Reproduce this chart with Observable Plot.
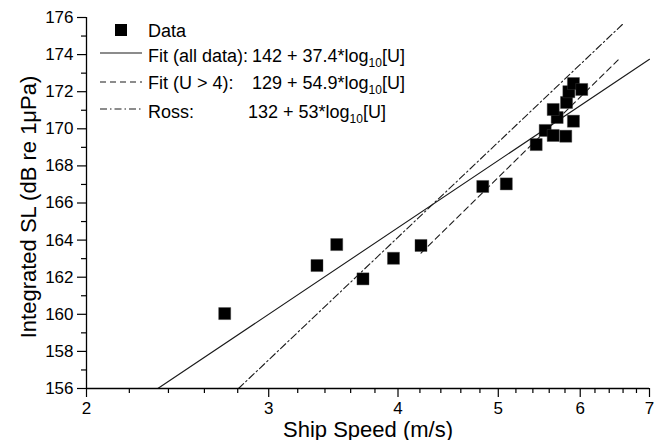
<!DOCTYPE html>
<html><head><meta charset="utf-8">
<script src="https://cdn.jsdelivr.net/npm/d3@7"></script>
<script src="https://cdn.jsdelivr.net/npm/@observablehq/plot@0.6"></script>
<style>body{margin:0;background:#fff}#chart{width:661px;height:440px}</style>
</head><body><div id="chart"></div>
<script>
// Measured data (ship speed m/s, integrated source level dB re 1 µPa)
const speed = [2.72, 3.34, 3.49, 3.70, 3.96, 4.21, 4.83, 5.09, 5.44, 5.55, 5.65, 5.81, 5.91, 5.70, 5.65, 5.82, 5.85, 5.91, 6.02];
const level = [160.04, 162.63, 163.76, 161.91, 163.02, 163.71, 166.89, 167.03, 169.15, 169.91, 169.64, 169.60, 170.41, 170.61, 171.04, 171.42, 172.00, 172.44, 172.12];

// Fit lines, endpoints
const fitAllU = [2.344, 7.0];
const fitAllSL = [156.0, 173.75];
const fitHighU = [4.21, 6.57];
const fitHighSL = [163.3, 173.86];
const rossU = [2.805, 6.6];
const rossSL = [156.0, 175.66];

// Ticks
const xMajor = [2, 3, 4, 5, 6, 7];
const xMinor = [2.2, 2.4, 2.6, 2.8, 3.2, 3.4, 3.6, 3.8, 4.2, 4.4, 4.6, 4.8, 5.2, 5.4, 5.6, 5.8, 6.2, 6.4, 6.6, 6.8];
const yMajor = [156, 158, 160, 162, 164, 166, 168, 170, 172, 174, 176];
const yMinor = [157, 159, 161, 163, 165, 167, 169, 171, 173, 175];

// Legend texts
const legendNames = ["Data", "Fit (all data):", "Fit (U > 4):", "Ross:"];
const legendFormulas = ["", "142 + 37.4*log", "129 + 54.9*log", "132 + 53*log"];

const toRows = (us, sls) => us.map((u, i) => ({u, sl: sls[i]}));
const pts = speed.map((u, i) => ({u, sl: level[i]}));
const font = "'Liberation Sans', Arial, Helvetica, sans-serif";

const chart = Plot.plot({
  width: 661, height: 440,
  marginLeft: 86, marginRight: 12, marginTop: 17, marginBottom: 52,
  style: {fontFamily: font, background: "white", color: "#000"},
  x: {type: "log", domain: [2, 7]},
  y: {domain: [156, 176]},
  marks: [
    Plot.axisX({ticks: xMajor, tickSize: 9, tickPadding: 4, tickFormat: d => String(d), fontSize: 17, label: null, stroke: "#000", strokeWidth: 1.2}),
    Plot.axisX({ticks: xMinor, tickSize: 5, tickFormat: () => "", label: null, stroke: "#000", strokeWidth: 1.2}),
    Plot.axisY({ticks: yMajor, tickSize: 9, tickPadding: 4, tickFormat: d => String(d), fontSize: 17, label: null, stroke: "#000", strokeWidth: 1.2}),
    Plot.axisY({ticks: yMinor, tickSize: 5, tickFormat: () => "", label: null, stroke: "#000", strokeWidth: 1.2}),
    Plot.line(toRows(fitAllU, fitAllSL), {x: "u", y: "sl", stroke: "#1a1a1a", strokeWidth: 1.1}),
    Plot.line(toRows(fitHighU, fitHighSL), {x: "u", y: "sl", stroke: "#1a1a1a", strokeWidth: 1.1, strokeDasharray: "6,4"}),
    Plot.line(toRows(rossU, rossSL), {x: "u", y: "sl", stroke: "#1a1a1a", strokeWidth: 1.1, strokeDasharray: "7,3,1.5,3"}),
    Plot.dot(pts, {x: "u", y: "sl", symbol: "square", r: 6.8, fill: "#000", stroke: "#444", strokeWidth: 0.4}),
    Plot.ruleX([2], {stroke: "#000", strokeWidth: 1.3}),
    Plot.ruleY([156], {stroke: "#000", strokeWidth: 1.3}),
    Plot.text(["Ship Speed (m/s)"], {frameAnchor: "bottom", textAnchor: "middle", lineAnchor: "bottom", dy: 48, text: d => d, fontSize: 22, fill: "#000"}),
    Plot.text(["Integrated SL (dB re 1\u03BCPa)"], {frameAnchor: "left", textAnchor: "middle", lineAnchor: "middle", dx: -58, dy: 4, rotate: -90, text: d => d, fontSize: 22, fill: "#000"})
  ]
});

// Legend drawn inside the frame
const svg = d3.select(chart);
const g = svg.append("g").attr("font-family", font).attr("font-size", 18).attr("fill", "#000").attr("text-anchor", "start");
const rowY = [37, 61.7, 89.3, 118];
const sampleY = [30, 53, 82, 109];
const dashes = [null, null, "6,4", "7,3,1.5,3"];
const formulaX = [0, 252, 252, 248];
legendNames.forEach((name, i) => {
  if (i === 0) {
    g.append("rect").attr("x", 115).attr("y", sampleY[0] - 6).attr("width", 12).attr("height", 12).attr("fill", "#000");
  } else {
    g.append("line").attr("x1", 100).attr("x2", 142).attr("y1", sampleY[i]).attr("y2", sampleY[i])
      .attr("stroke", "#1a1a1a").attr("stroke-width", 1.1).attr("stroke-dasharray", dashes[i]);
  }
  g.append("text").attr("x", 148).attr("y", rowY[i]).attr("text-anchor", "start").text(name);
  if (legendFormulas[i]) {
    const t = g.append("text").attr("x", formulaX[i]).attr("y", rowY[i]).attr("text-anchor", "start");
    t.append("tspan").text(legendFormulas[i]);
    t.append("tspan").attr("font-size", 12).attr("dy", 5).text("10");
    t.append("tspan").attr("dy", -5).text("[U]");
  }
});

document.getElementById("chart").appendChild(chart);
</script>
</body></html>
